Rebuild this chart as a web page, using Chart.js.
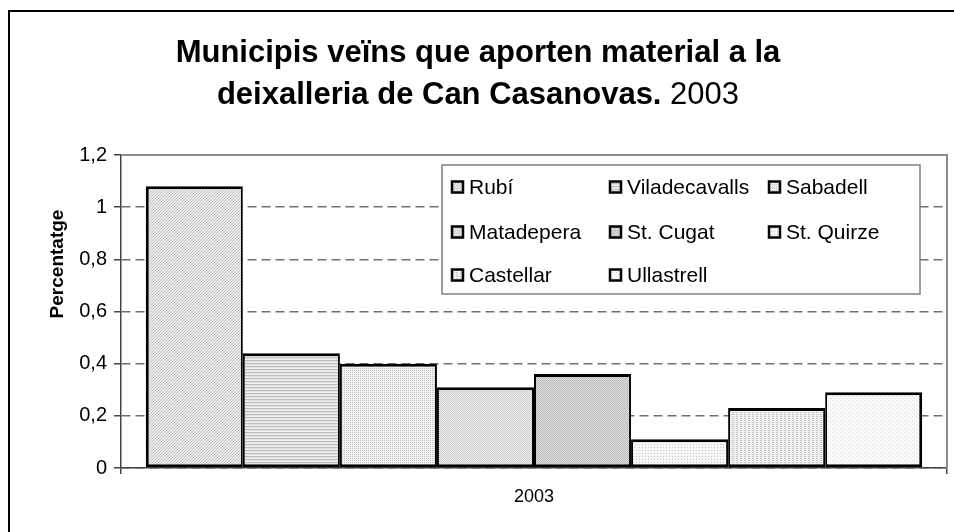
<!DOCTYPE html>
<html>
<head>
<meta charset="utf-8">
<script src="https://cdn.jsdelivr.net/npm/chart.js@4.4.1/dist/chart.umd.min.js"></script>
<style>
  html, body { margin: 0; padding: 0; background: #fff; }
  #wrap { position: relative; width: 954px; height: 532px; overflow: hidden; }
  #frame { position: absolute; left: 8px; top: 10px; width: 1000px; height: 600px; border-left: 2px solid #000; border-top: 2px solid #000; box-sizing: border-box; }
  canvas { position: absolute; left: 0; top: 0; }
</style>
</head>
<body>
<div id="wrap">
  <div id="frame"></div>
  <canvas id="c" width="954" height="532"></canvas>
</div>
<script>
// ---- data ----
const categories = ['2003'];
const municipis = ['Rubí', 'Viladecavalls', 'Sabadell', 'Matadepera', 'St. Cugat', 'St. Quirze', 'Castellar', 'Ullastrell'];
const percentatges = [1.08, 0.44, 0.40, 0.31, 0.36, 0.11, 0.23, 0.29];
const yTickLabels = ['0', '0,2', '0,4', '0,6', '0,8', '1', '1,2'];
const titleBold = ['Municipis veïns que aporten material a la', 'deixalleria de Can Casanovas.'];
const titleNormal = ' 2003';
const yAxisTitle = 'Percentatge';

// ---- fill patterns (grey textures) ----
function makePattern(w, h, cells) {
  const t = document.createElement('canvas');
  t.width = w; t.height = h;
  const c = t.getContext('2d');
  for (let y = 0; y < h; y++) for (let x = 0; x < w; x++) {
    c.fillStyle = cells[y][x];
    c.fillRect(x, y, 1, 1);
  }
  return document.getElementById('c').getContext('2d').createPattern(t, 'repeat');
}
const A = '#c0c0c0', B = '#ececec';
const patterns = [
  makePattern(3, 3, [[B, B, A], [B, A, B], [A, B, B]]),
  makePattern(1, 3, [['#bdbdbd'], ['#e2e2e2'], ['#f0f0f0']]),
  makePattern(2, 2, [['#c4c4c4', '#f0f0f0'], ['#f0f0f0', '#f0f0f0']]),
  makePattern(2, 2, [['#cccccc', '#eeeeee'], ['#eeeeee', '#cccccc']]),
  makePattern(2, 2, [['#bcbcbc', '#dedede'], ['#dedede', '#bcbcbc']]),
  makePattern(3, 3, [['#c8c8c8', '#f6f6f6', '#f6f6f6'], ['#f6f6f6', '#f6f6f6', '#f6f6f6'], ['#f6f6f6', '#f6f6f6', '#f6f6f6']]),
  makePattern(4, 2, [['#c4c4c4', '#c4c4c4', '#ececec', '#ececec'], ['#f2f2f2', '#f2f2f2', '#f2f2f2', '#f2f2f2']]),
  makePattern(4, 4, [['#d8d8d8', '#fbfbfb', '#fbfbfb', '#fbfbfb'], ['#fbfbfb', '#fbfbfb', '#fbfbfb', '#fbfbfb'], ['#fbfbfb', '#fbfbfb', '#d8d8d8', '#fbfbfb'], ['#fbfbfb', '#fbfbfb', '#fbfbfb', '#fbfbfb']])
];

const FONT = "'Liberation Sans', Arial, sans-serif";
const last = municipis.length - 1;

const datasets = municipis.map((m, i) => ({
  label: m,
  data: [percentatges[i]],
  backgroundColor: patterns[i],
  borderColor: '#000',
  borderSkipped: false,
  borderWidth: {
    top: 3, bottom: 3,
    left: i === 0 ? 3 : 2,
    right: i === last ? 3 : 2
  },
  inflateAmount: 0,
  barPercentage: 1.0,
  categoryPercentage: 0.94
}));

// custom title (mixed bold / normal), axis title, plot frame and legend box
const decor = {
  id: 'decor',
  afterDraw(chart) {
    const ctx = chart.ctx;
    const ca = chart.chartArea;
    ctx.save();
    // plot area top & right border
    ctx.strokeStyle = '#8c8c8c';
    ctx.lineWidth = 2;
    ctx.beginPath();
    ctx.moveTo(ca.left, ca.top);
    ctx.lineTo(ca.right, ca.top);
    ctx.lineTo(ca.right, ca.bottom);
    ctx.stroke();

    // title
    const cx = 478;
    const TS = 31;
    ctx.fillStyle = '#000';
    ctx.textBaseline = 'alphabetic';
    ctx.textAlign = 'left';
    ctx.font = 'bold ' + TS + 'px ' + FONT;
    let w1 = ctx.measureText(titleBold[0]).width;
    ctx.fillText(titleBold[0], cx - w1 / 2, 62);
    let wb = ctx.measureText(titleBold[1]).width;
    ctx.font = TS + 'px ' + FONT;
    let wn = ctx.measureText(titleNormal).width;
    let x0 = cx - (wb + wn) / 2;
    ctx.font = 'bold ' + TS + 'px ' + FONT;
    ctx.fillText(titleBold[1], x0, 104);
    ctx.font = TS + 'px ' + FONT;
    ctx.fillText(titleNormal, x0 + wb, 104);

    // y axis title
    ctx.save();
    ctx.translate(58, 264);
    ctx.rotate(-Math.PI / 2);
    ctx.textAlign = 'center';
    ctx.textBaseline = 'middle';
    ctx.font = 'bold 19px ' + FONT;
    ctx.fillText(yAxisTitle, 0, 0);
    ctx.restore();

    // legend
    const lx = ca.left + 321, ly = ca.top + 10, lw = 478, lh = 129;
    ctx.fillStyle = '#fff';
    ctx.fillRect(lx, ly, lw, lh);
    ctx.strokeStyle = '#808080';
    ctx.lineWidth = 1.5;
    ctx.strokeRect(lx, ly, lw, lh);
    const colX = [lx + 10, lx + 168, lx + 327];
    const rowY = [ly + 22, ly + 67, ly + 110];
    ctx.font = '21px ' + FONT;
    ctx.textBaseline = 'middle';
    ctx.textAlign = 'left';
    chart.data.datasets.forEach((ds, i) => {
      const x = colX[i % 3], y = rowY[Math.floor(i / 3)];
      ctx.fillStyle = ds.backgroundColor;
      ctx.fillRect(x, y - 5.5, 11, 11);
      ctx.strokeStyle = '#000';
      ctx.lineWidth = 2.5;
      ctx.strokeRect(x, y - 5.5, 11, 11);
      ctx.fillStyle = '#000';
      ctx.fillText(ds.label, x + 17, y + 1);
    });
    ctx.restore();
  }
};

new Chart(document.getElementById('c'), {
  type: 'bar',
  data: { labels: categories, datasets },
  plugins: [decor],
  options: {
    responsive: false,
    animation: false,
    layout: { padding: { left: 44, right: 7, top: 155, bottom: 0 } },
    plugins: {
      legend: { display: false },
      title: { display: false },
      tooltip: { enabled: false }
    },
    scales: {
      x: {
        afterFit(s) { s.height = 64; },
        grid: {
          offset: true,
          drawOnChartArea: false,
          color: '#444',
          tickLength: 6,
          lineWidth: 1.5
        },
        border: { color: '#444', width: 1.5 },
        ticks: { color: '#000', font: { family: FONT, size: 18 }, padding: 12 }
      },
      y: {
        min: 0, max: 1.2,
        afterFit(s) { s.width = 121 - 44; },
        ticks: {
          stepSize: 0.2,
          color: '#000',
          padding: 7,
          font: { family: FONT, size: 20 },
          callback: (v, i) => yTickLabels[i]
        },
        grid: {
          color: '#707070',
          lineWidth: 1.5,
          tickLength: 7,
          tickColor: '#444',
          tickBorderDash: [],
          tickWidth: 1.5
        },
        border: { color: '#444', width: 1.5, dash: [9, 5] },
        title: { display: false }
      }
    }
  }
});
</script>
</body>
</html>
